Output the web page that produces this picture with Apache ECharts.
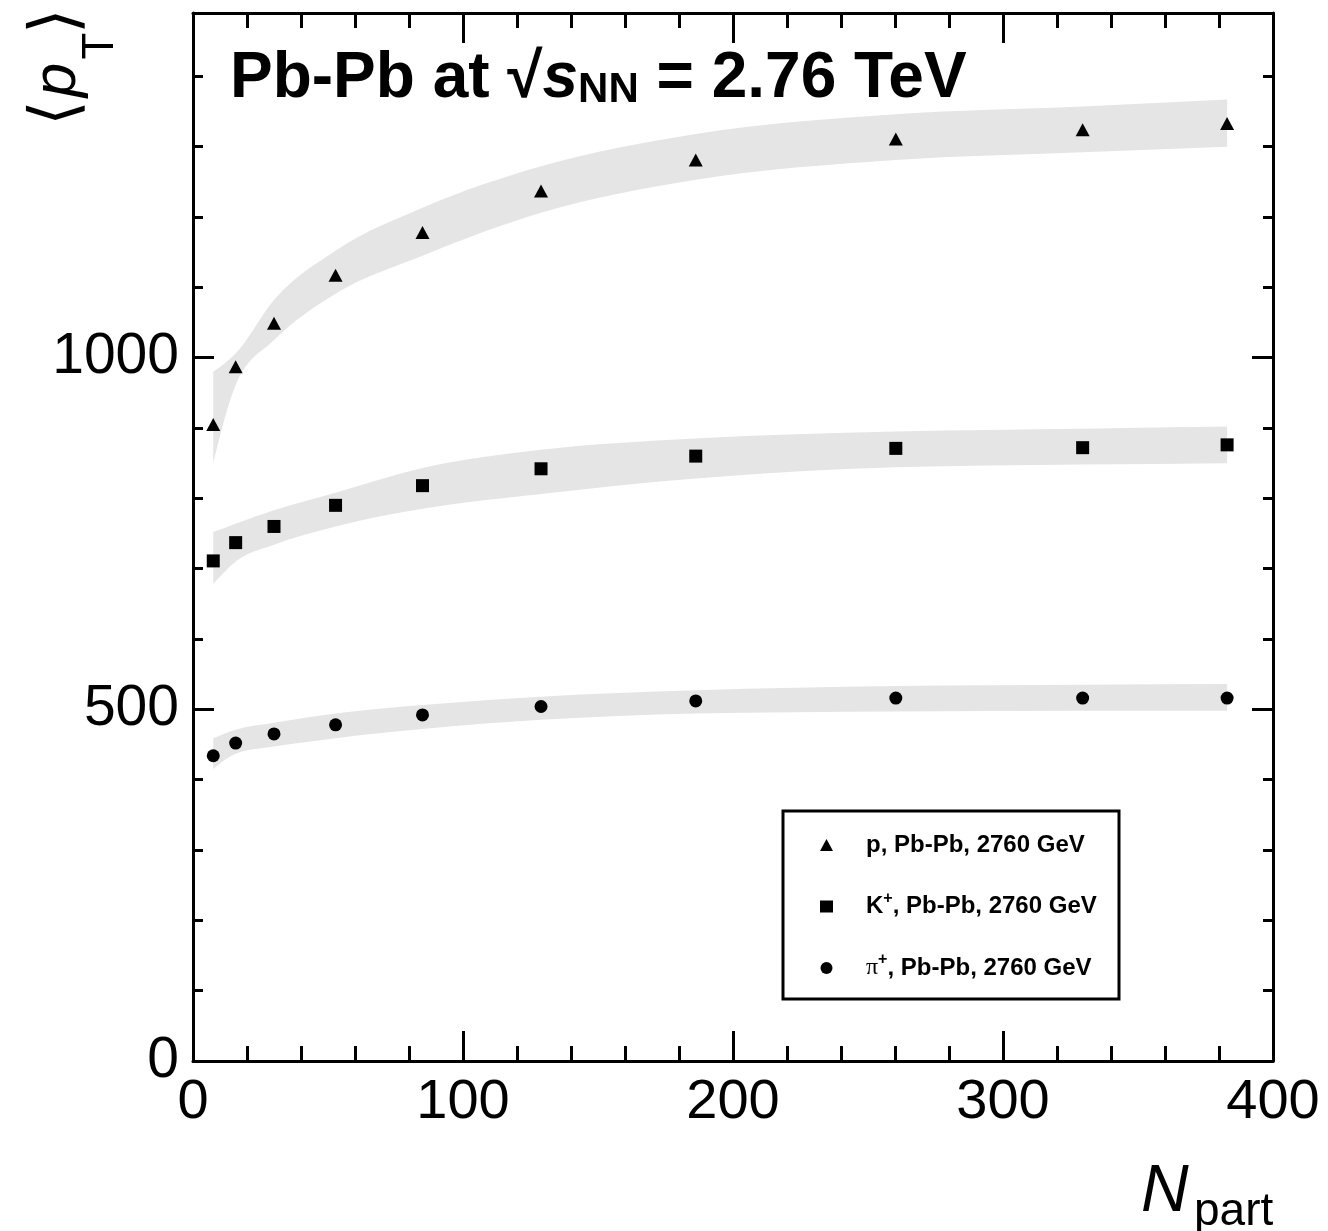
<!DOCTYPE html>
<html>
<head>
<meta charset="utf-8">
<script src="https://cdn.jsdelivr.net/npm/echarts@6/dist/echarts.min.js"></script>
<style>
  html, body { margin: 0; padding: 0; background: #fff; }
  #chart { width: 1328px; height: 1231px; }
</style>
</head>
<body>
<div id="chart"></div>
<script>
// Number of participating nucleons per centrality class
const npart = [383.0, 329.5, 260.3, 186.2, 128.9, 85.0, 52.8, 30.0, 15.8, 7.5];

// Mean transverse momentum (MeV/c)
const protonMean = [1333, 1324, 1311, 1281, 1237, 1178, 1117, 1049, 987, 905];
const kaonMean   = [876, 872, 871, 860, 842, 818, 790, 760, 737, 711];
const pionMean   = [516, 516, 516, 512, 504, 492, 478, 465, 452, 434];

// Systematic uncertainty bands (upper / lower edges)
const protonUpper = [1367, 1357, 1346, 1318, 1272, 1213, 1152, 1082, 1006, 980];
const protonLower = [1300, 1292, 1281, 1253, 1206, 1145, 1091, 1025, 961, 850];
const kaonUpper   = [902, 899, 895, 885, 869, 843, 808, 783, 764, 752];
const kaonLower   = [850, 848, 844, 828, 806, 785, 760, 734, 710, 678];
const pionUpper   = [536, 535, 533, 527, 518, 506, 494, 481, 471, 459];
const pionLower   = [498, 498, 497, 494, 485, 472, 459, 447, 437, 415];

// Axis tick values
const xTicks = [0, 100, 200, 300, 400];
const yLabelTicks = [0, 500, 1000];

const seriesNames = ['p, Pb-Pb, 2760 GeV', 'K+, Pb-Pb, 2760 GeV', 'pi+, Pb-Pb, 2760 GeV'];

const FONT = '"Liberation Sans", Arial, Helvetica, sans-serif';
const BAND = '#e5e5e5';

function pairs(xs, ys) { return xs.map((x, i) => [x, ys[i]]); }

// Monotone cubic (Fritsch-Carlson style) Bezier pieces for points sorted by x
function monotoneSegments(pts) {
  const n = pts.length;
  const h = [], s = [], m = new Array(n);
  for (let i = 0; i < n - 1; i++) {
    h.push(pts[i + 1][0] - pts[i][0]);
    s.push((pts[i + 1][1] - pts[i][1]) / h[i]);
  }
  for (let i = 1; i < n - 1; i++) {
    const p = (s[i - 1] * h[i] + s[i] * h[i - 1]) / (h[i - 1] + h[i]);
    m[i] = (Math.sign(s[i - 1]) + Math.sign(s[i])) *
      Math.min(Math.abs(s[i - 1]), Math.abs(s[i]), 0.5 * Math.abs(p));
  }
  m[0] = n > 2 ? (3 * s[0] - m[1]) / 2 : s[0];
  m[n - 1] = n > 2 ? (3 * s[n - 2] - m[n - 2]) / 2 : s[n - 2];
  const segs = [];
  for (let i = 0; i < n - 1; i++) {
    const d = h[i] / 3;
    segs.push({
      a: pts[i],
      c1: [pts[i][0] + d, pts[i][1] + m[i] * d],
      c2: [pts[i + 1][0] - d, pts[i + 1][1] - m[i + 1] * d],
      b: pts[i + 1]
    });
  }
  return segs;
}

function cmd(c1, c2, p) {
  return ' C' + c1[0] + ' ' + c1[1] + ' ' + c2[0] + ' ' + c2[1] + ' ' + p[0] + ' ' + p[1];
}

// Uncertainty band: smooth upper edge left to right, lower edge right to left
function band(upper, lower) {
  return {
    type: 'custom', silent: true, z: 1,
    data: [[npart[0], upper[0]]],
    renderItem: function (params, api) {
      const up = npart.map((x, i) => api.coord([x, upper[i]])).sort((p, q) => p[0] - q[0]);
      const lo = npart.map((x, i) => api.coord([x, lower[i]])).sort((p, q) => p[0] - q[0]);
      const su = monotoneSegments(up);
      const sl = monotoneSegments(lo);
      let d = 'M' + up[0][0] + ' ' + up[0][1];
      su.forEach(g => { d += cmd(g.c1, g.c2, g.b); });
      const last = lo[lo.length - 1];
      d += ' L' + last[0] + ' ' + last[1];
      for (let i = sl.length - 1; i >= 0; i--) {
        const g = sl[i];
        d += cmd(g.c2, g.c1, g.a);
      }
      d += ' Z';
      return { type: 'path', shape: { pathData: d }, style: { fill: BAND, stroke: null } };
    }
  };
}

const axisLineStyle = { color: '#000', width: 3 };
const tickStyle = { color: '#000', width: 3 };

function xAxisDef(position, showLabels) {
  return {
    type: 'value', position: position, min: 0, max: 400, interval: 100,
    axisLine: { show: true, onZero: false, lineStyle: axisLineStyle },
    axisTick: { show: true, inside: true, length: 30, lineStyle: tickStyle },
    minorTick: { show: true, splitNumber: 5, length: 15, lineStyle: tickStyle },
    axisLabel: {
      show: showLabels, margin: 14, fontSize: 56, color: '#000', fontFamily: FONT,
      formatter: v => (xTicks.indexOf(v) >= 0 ? String(v) : '')
    },
    splitLine: { show: false }, minorSplitLine: { show: false }
  };
}

function yAxisDef(position, interval, len, showLine, showLabels) {
  return {
    type: 'value', position: position, min: 0, max: 1490, interval: interval,
    axisLine: { show: showLine, onZero: false, lineStyle: axisLineStyle },
    axisTick: { show: true, inside: true, length: len, lineStyle: tickStyle },
    axisLabel: {
      show: showLabels, margin: 14, fontSize: 57, color: '#000', fontFamily: FONT,
      formatter: v => (yLabelTicks.indexOf(v) >= 0 ? String(v) : '')
    },
    splitLine: { show: false }
  };
}

const legendRich = {
  b: { fontSize: 24, fontWeight: 'bold', fontFamily: FONT, color: '#000', lineHeight: 20 },
  sup: { fontSize: 16, fontWeight: 'bold', fontFamily: FONT, color: '#000', lineHeight: 20, height: 4, verticalAlign: 'top' },
  pi: { fontSize: 24, fontFamily: '"Liberation Serif", "DejaVu Serif", serif', color: '#000', lineHeight: 20 }
};
const legendText = {};
legendText[seriesNames[0]] = '{b|p, Pb-Pb, 2760 GeV}';
legendText[seriesNames[1]] = '{b|K}{sup|+}{b|, Pb-Pb, 2760 GeV}';
legendText[seriesNames[2]] = '{pi|\u03c0}{sup|+}{b|, Pb-Pb, 2760 GeV}';

const option = {
  backgroundColor: '#fff',
  animation: false,
  grid: { left: 193, right: 55, top: 13, bottom: 170, containLabel: false },
  xAxis: [xAxisDef('bottom', true), xAxisDef('top', false)],
  yAxis: [
    yAxisDef('left', 100, 10, true, true),
    yAxisDef('left', 500, 21, false, false),
    yAxisDef('right', 100, 10, true, false),
    yAxisDef('right', 500, 21, false, false)
  ],
  legend: {
    data: seriesNames,
    orient: 'vertical',
    left: 820, top: 833,
    padding: 0,
    itemGap: 33.5,
    itemWidth: 13, itemHeight: 12,
    selectedMode: false,
    formatter: name => legendText[name],
    textStyle: { padding: [0, 0, 0, 28], rich: legendRich }
  },
  series: [
    band(protonUpper, protonLower),
    band(kaonUpper, kaonLower),
    band(pionUpper, pionLower),
    {
      name: seriesNames[0], type: 'scatter', symbol: 'triangle', symbolSize: [14, 13], z: 3,
      itemStyle: { color: '#000', opacity: 1 }, data: pairs(npart, protonMean)
    },
    {
      name: seriesNames[1], type: 'scatter', symbol: 'rect', symbolSize: 13, z: 3,
      itemStyle: { color: '#000', opacity: 1 }, data: pairs(npart, kaonMean)
    },
    {
      name: seriesNames[2], type: 'scatter', symbol: 'circle', symbolSize: 13, z: 3,
      itemStyle: { color: '#000', opacity: 1 }, data: pairs(npart, pionMean)
    }
  ],
  graphic: [
    // legend frame
    {
      type: 'rect', z: 10, silent: true,
      shape: { x: 783, y: 811, width: 336, height: 188 },
      style: { fill: 'none', stroke: '#000', lineWidth: 3 }
    },
    // collision system label
    {
      type: 'text', z: 10, silent: true, x: 230, y: 41,
      style: {
        text: '{a|Pb-Pb at }{r|\u221a}{s|s}{n|NN}{a| = 2.76 TeV}',
        align: 'left', verticalAlign: 'top',
        rich: {
          a: { fontSize: 64, fontWeight: 'bold', fontFamily: FONT, fill: '#000', lineHeight: 70, verticalAlign: 'bottom' },
          r: { fontSize: 64, fontWeight: 'bold', fontFamily: FONT, fill: '#000', lineHeight: 70, verticalAlign: 'bottom' },
          s: { fontSize: 64, fontWeight: 'bold', fontStyle: 'italic', fontFamily: FONT, fill: '#000', lineHeight: 70, verticalAlign: 'bottom' },
          n: { fontSize: 42, fontWeight: 'bold', fontFamily: FONT, fill: '#000', lineHeight: 46, verticalAlign: 'bottom' }
        }
      }
    },
    // y axis title: <p_T>
    {
      type: 'text', z: 10, silent: true, x: 59, y: 113, rotation: Math.PI / 2,
      style: { text: '\u27e8', fontSize: 66, fontFamily: '"DejaVu Sans", sans-serif', fontWeight: 200, fill: '#000', align: 'center', verticalAlign: 'middle' }
    },
    {
      type: 'text', z: 10, silent: true, x: 58, y: 80, rotation: Math.PI / 2,
      style: { text: 'p', fontSize: 62, fontStyle: 'italic', fontFamily: FONT, fill: '#000', align: 'center', verticalAlign: 'middle' }
    },
    {
      type: 'text', z: 10, silent: true, x: 101, y: 46, rotation: Math.PI / 2,
      style: { text: 'T', fontSize: 44, fontFamily: FONT, fill: '#000', align: 'center', verticalAlign: 'middle' }
    },
    {
      type: 'text', z: 10, silent: true, x: 59, y: 21, rotation: Math.PI / 2,
      style: { text: '\u27e9', fontSize: 66, fontFamily: '"DejaVu Sans", sans-serif', fontWeight: 200, fill: '#000', align: 'center', verticalAlign: 'middle' }
    },
    // x axis title: N_part
    {
      type: 'text', z: 10, silent: true, x: 1141, y: 1193,
      style: { text: 'N', fontSize: 66, fontStyle: 'italic', fontFamily: FONT, fill: '#000', align: 'left', verticalAlign: 'middle' }
    },
    {
      type: 'text', z: 10, silent: true, x: 1194, y: 1212,
      style: { text: 'part', fontSize: 46, fontFamily: FONT, fill: '#000', align: 'left', verticalAlign: 'middle' }
    }
  ]
};

const chart = echarts.init(document.getElementById('chart'), null, { renderer: 'canvas' });
chart.setOption(option);
</script>
</body>
</html>
